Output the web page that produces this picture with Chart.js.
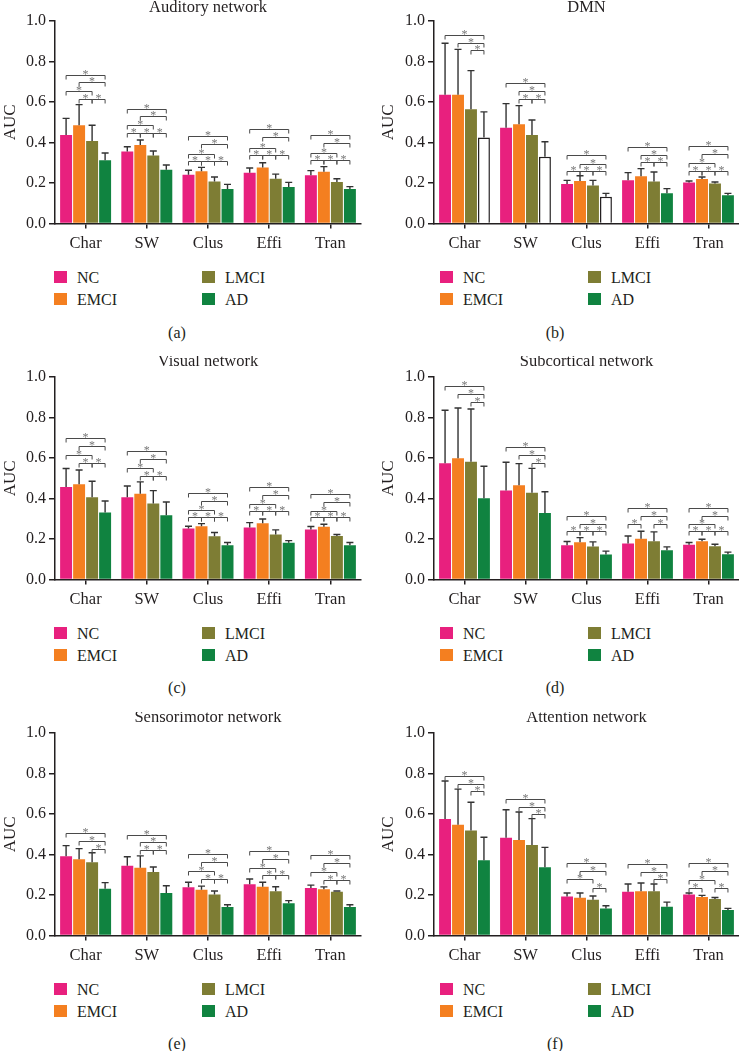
<!DOCTYPE html>
<html>
<head>
<meta charset="utf-8">
<script src="https://cdn.jsdelivr.net/npm/chart.js@4.4.1/dist/chart.umd.min.js"></script>
<style>
  body { margin: 0; background: #fff; }
  #page { position: relative; width: 739px; height: 1051px; overflow: hidden;
          font-family: "Liberation Serif", serif; color: #231f20; }
  #page canvas { position: absolute; }
  .lg { position: absolute; font-size: 16px; line-height: 16px; white-space: nowrap; transform: translateY(-50%); }
  .sw { position: absolute; width: 13px; height: 12px; transform: translateY(-50%); }
  .cap { position: absolute; font-size: 16px; line-height: 16px; transform: translate(-50%, -50%); }
</style>
</head>
<body>
<div id="page"></div>
<script>
const categories = ['Char', 'SW', 'Clus', 'Effi', 'Tran'];
const groups = ['NC', 'EMCI', 'LMCI', 'AD'];
const groupColors = ['#e8207e', '#f47f20', '#7e7d34', '#108340'];

// rows: NC, EMCI, LMCI, AD ; columns: Char, SW, Clus, Effi, Tran
const auditoryMean = [
    [0.437, 0.356, 0.241, 0.251, 0.238],
    [0.485, 0.388, 0.258, 0.277, 0.256],
    [0.407, 0.336, 0.207, 0.221, 0.205],
    [0.312, 0.266, 0.170, 0.180, 0.170]
];
const auditorySd = [
    [0.082, 0.023, 0.022, 0.023, 0.023],
    [0.102, 0.024, 0.019, 0.023, 0.025],
    [0.078, 0.022, 0.023, 0.023, 0.016],
    [0.036, 0.023, 0.023, 0.023, 0.012]
];
// significance brackets per category: [group a, group b, AUC level]
const auditorySig = [
    [[0, 3, 0.732], [1, 3, 0.697], [0, 2, 0.654], [1, 2, 0.613], [2, 3, 0.613]],
    [[0, 3, 0.567], [1, 3, 0.529], [0, 2, 0.485], [0, 1, 0.447], [1, 2, 0.447], [2, 3, 0.447]],
    [[0, 3, 0.430], [1, 3, 0.394], [0, 2, 0.345], [0, 1, 0.307], [1, 2, 0.307], [2, 3, 0.307]],
    [[0, 3, 0.465], [1, 3, 0.426], [0, 2, 0.374], [0, 1, 0.336], [1, 2, 0.336], [2, 3, 0.336]],
    [[0, 3, 0.437], [1, 3, 0.396], [0, 2, 0.350], [0, 1, 0.313], [1, 2, 0.313], [2, 3, 0.313]]
];

const dmnMean = [
    [0.636, 0.473, 0.195, 0.213, 0.202],
    [0.636, 0.490, 0.210, 0.233, 0.220],
    [0.564, 0.437, 0.188, 0.208, 0.198],
    [0.425, 0.330, 0.132, 0.149, 0.139]
];
const dmnSd = [
    [0.254, 0.119, 0.018, 0.038, 0.008],
    [0.224, 0.092, 0.026, 0.038, 0.010],
    [0.191, 0.074, 0.025, 0.046, 0.007],
    [0.126, 0.074, 0.017, 0.023, 0.010]
];
const dmnSig = [
    [[0, 3, 0.933], [1, 3, 0.893], [2, 3, 0.857]],
    [[0, 3, 0.692], [1, 3, 0.656], [1, 2, 0.616], [2, 3, 0.616]],
    [[0, 3, 0.337], [1, 3, 0.296], [0, 1, 0.259], [1, 2, 0.259], [2, 3, 0.259]],
    [[0, 3, 0.379], [1, 3, 0.337], [1, 2, 0.302], [2, 3, 0.302]],
    [[0, 3, 0.383], [1, 3, 0.345], [0, 2, 0.300], [0, 1, 0.261], [1, 2, 0.261], [2, 3, 0.261]]
];
// AD bars drawn hollow in the DMN panel
const dmnHollowAD = [true, true, true, false, false];

const visualMean = [
    [0.457, 0.406, 0.252, 0.257, 0.247],
    [0.470, 0.423, 0.263, 0.278, 0.260],
    [0.406, 0.375, 0.214, 0.222, 0.215],
    [0.331, 0.317, 0.169, 0.181, 0.169]
];
const visualSd = [
    [0.091, 0.056, 0.011, 0.024, 0.015],
    [0.071, 0.059, 0.013, 0.021, 0.013],
    [0.079, 0.064, 0.018, 0.023, 0.007],
    [0.057, 0.066, 0.014, 0.011, 0.014]
];
const visualSig = [
    [[0, 3, 0.701], [1, 3, 0.661], [0, 2, 0.613], [1, 2, 0.576], [2, 3, 0.576]],
    [[0, 3, 0.633], [1, 3, 0.597], [0, 2, 0.551], [1, 2, 0.512], [2, 3, 0.512]],
    [[0, 3, 0.428], [1, 3, 0.388], [0, 2, 0.342], [0, 1, 0.309], [1, 2, 0.309], [2, 3, 0.309]],
    [[0, 3, 0.457], [1, 3, 0.419], [0, 2, 0.375], [0, 1, 0.337], [1, 2, 0.337], [2, 3, 0.337]],
    [[0, 3, 0.424], [1, 3, 0.385], [0, 2, 0.339], [0, 1, 0.308], [1, 2, 0.308], [2, 3, 0.308]]
];

const subcorticalMean = [
    [0.574, 0.439, 0.169, 0.178, 0.171],
    [0.599, 0.465, 0.184, 0.201, 0.189],
    [0.582, 0.429, 0.163, 0.189, 0.164],
    [0.401, 0.329, 0.123, 0.145, 0.125]
];
const subcorticalSd = [
    [0.262, 0.140, 0.019, 0.037, 0.012],
    [0.248, 0.107, 0.023, 0.037, 0.010],
    [0.260, 0.120, 0.023, 0.046, 0.010],
    [0.158, 0.104, 0.017, 0.016, 0.010]
];
const subcorticalSig = [
    [[0, 3, 0.954], [1, 3, 0.914], [2, 3, 0.877]],
    [[0, 3, 0.653], [1, 3, 0.613], [2, 3, 0.576]],
    [[0, 3, 0.313], [1, 3, 0.276], [0, 1, 0.238], [1, 2, 0.238], [2, 3, 0.238]],
    [[0, 3, 0.355], [1, 3, 0.313], [0, 1, 0.276], [2, 3, 0.276]],
    [[0, 3, 0.354], [1, 3, 0.313], [0, 2, 0.273], [0, 1, 0.238], [1, 2, 0.238], [2, 3, 0.238]]
];

const sensorimotorMean = [
    [0.391, 0.345, 0.238, 0.253, 0.235],
    [0.376, 0.335, 0.226, 0.241, 0.228],
    [0.362, 0.314, 0.203, 0.218, 0.216],
    [0.231, 0.210, 0.141, 0.159, 0.141]
];
const sensorimotorSd = [
    [0.053, 0.044, 0.025, 0.026, 0.014],
    [0.053, 0.058, 0.018, 0.022, 0.012],
    [0.047, 0.024, 0.017, 0.023, 0.004],
    [0.030, 0.036, 0.011, 0.013, 0.011]
];
const sensorimotorSig = [
    [[0, 3, 0.508], [1, 3, 0.465], [2, 3, 0.425]],
    [[0, 3, 0.498], [1, 3, 0.462], [1, 2, 0.424], [2, 3, 0.424]],
    [[0, 3, 0.401], [1, 3, 0.363], [0, 2, 0.317], [1, 2, 0.277], [2, 3, 0.277]],
    [[0, 3, 0.417], [1, 3, 0.379], [0, 2, 0.335], [1, 2, 0.297], [2, 3, 0.297]],
    [[0, 3, 0.396], [1, 3, 0.358], [0, 2, 0.312], [1, 2, 0.274], [2, 3, 0.274]]
];

const attentionMean = [
    [0.575, 0.483, 0.193, 0.216, 0.202],
    [0.547, 0.472, 0.187, 0.218, 0.190],
    [0.518, 0.447, 0.177, 0.218, 0.180],
    [0.371, 0.337, 0.133, 0.142, 0.126]
];
const attentionSd = [
    [0.188, 0.138, 0.017, 0.038, 0.008],
    [0.176, 0.138, 0.023, 0.041, 0.008],
    [0.140, 0.130, 0.018, 0.036, 0.008],
    [0.114, 0.098, 0.014, 0.023, 0.008]
];
const attentionSig = [
    [[0, 3, 0.786], [1, 3, 0.748], [2, 3, 0.712]],
    [[0, 3, 0.676], [1, 3, 0.636], [2, 3, 0.598]],
    [[0, 3, 0.360], [1, 3, 0.320], [0, 2, 0.281], [2, 3, 0.233]],
    [[0, 3, 0.354], [1, 3, 0.315], [2, 3, 0.279]],
    [[0, 3, 0.356], [1, 3, 0.317], [0, 2, 0.274], [0, 1, 0.233], [2, 3, 0.233]]
];

const INK = '#231f20';
const FONT = '"Liberation Serif", serif';

const panels = [
    { title: 'Auditory network', caption: '(a)', mean: auditoryMean, sd: auditorySd, sig: auditorySig, col: 0, row: 0 },
    { title: 'DMN', caption: '(b)', mean: dmnMean, sd: dmnSd, sig: dmnSig, col: 1, row: 0, hollow: dmnHollowAD },
    { title: 'Visual network', caption: '(c)', mean: visualMean, sd: visualSd, sig: visualSig, col: 0, row: 1 },
    { title: 'Subcortical network', caption: '(d)', mean: subcorticalMean, sd: subcorticalSd, sig: subcorticalSig, col: 1, row: 1 },
    { title: 'Sensorimotor network', caption: '(e)', mean: sensorimotorMean, sd: sensorimotorSd, sig: sensorimotorSig, col: 0, row: 2 },
    { title: 'Attention network', caption: '(f)', mean: attentionMean, sd: attentionSd, sig: attentionSig, col: 1, row: 2 }
];

// error bars (upper only) and significance brackets
const marksPlugin = {
    id: 'marks',
    afterDatasetsDraw(chart, args, opts) {
        const ctx = chart.ctx;
        const yScale = chart.scales.y;
        ctx.save();
        ctx.strokeStyle = '#333';
        ctx.lineWidth = 1.4;
        chart.data.datasets.forEach((ds, i) => {
            chart.getDatasetMeta(i).data.forEach((bar, j) => {
                const top = yScale.getPixelForValue(ds.data[j] + opts.sd[i][j]);
                ctx.beginPath();
                ctx.moveTo(bar.x, bar.y);
                ctx.lineTo(bar.x, top);
                ctx.moveTo(bar.x - 3.5, top);
                ctx.lineTo(bar.x + 3.5, top);
                ctx.stroke();
            });
        });

        ctx.strokeStyle = '#4a4a4a';
        ctx.lineWidth = 1;
        ctx.fillStyle = '#777';
        ctx.font = '12px ' + FONT;
        ctx.textAlign = 'center';
        ctx.textBaseline = 'alphabetic';
        opts.sig.forEach((list, j) => {
            list.forEach(([a, b, level]) => {
                const x1 = chart.getDatasetMeta(a).data[j].x;
                const x2 = chart.getDatasetMeta(b).data[j].x;
                const yy = Math.round(yScale.getPixelForValue(level)) + 0.5;
                ctx.beginPath();
                ctx.moveTo(x1, yy + 4);
                ctx.lineTo(x1, yy);
                ctx.lineTo(x2, yy);
                ctx.lineTo(x2, yy + 4);
                ctx.stroke();
                ctx.fillText('*', (x1 + x2) / 2, yy + 2.5);
            });
        });
        ctx.restore();
    }
};

// panel title centred over the plot area
const titlePlugin = {
    id: 'panelTitle',
    afterDraw(chart, args, opts) {
        const area = chart.chartArea;
        const ctx = chart.ctx;
        ctx.save();
        ctx.fillStyle = INK;
        ctx.font = '16.5px ' + FONT;
        ctx.textAlign = 'center';
        ctx.textBaseline = 'middle';
        ctx.fillText(opts.text, (area.left + area.right) / 2, area.top - opts.gap);
        ctx.restore();
    }
};

const page = document.getElementById('page');
const rowTops = [0, 355.7, 711.7];

panels.forEach(p => {
    const left = p.col === 0 ? 0 : 370;
    const width = p.col === 0 ? 370 : 369;
    const top = rowTops[p.row];
    const canvas = document.createElement('canvas');
    canvas.width = width;
    canvas.height = 262;
    canvas.style.left = left + 'px';
    canvas.style.top = top + 'px';
    page.appendChild(canvas);

    const datasets = groups.map((g, i) => {
        const hollow = i === 3 && p.hollow;
        return {
            label: g,
            data: p.mean[i],
            backgroundColor: hollow ? p.hollow.map(h => h ? '#ffffff' : groupColors[i]) : groupColors[i],
            borderColor: INK,
            borderWidth: hollow ? p.hollow.map(h => h ? 1.5 : 0) : 0,
            borderSkipped: 'start'
        };
    });

    new Chart(canvas, {
        type: 'bar',
        data: { labels: categories, datasets: datasets },
        options: {
            responsive: false,
            animation: false,
            layout: { padding: { top: 21, right: p.col === 0 ? 9 : 0, left: 0, bottom: 0 } },
            datasets: { bar: { categoryPercentage: 0.85, barPercentage: 0.92 } },
            plugins: {
                legend: { display: false },
                tooltip: { enabled: false },
                marks: { sd: p.sd, sig: p.sig },
                panelTitle: { text: p.title, gap: p.row === 0 ? 13 : 15 }
            },
            scales: {
                x: {
                    grid: { offset: false, drawOnChartArea: false, tickLength: 5, color: INK, lineWidth: 1.5 },
                    border: { color: INK, width: 1.5 },
                    ticks: { font: { family: FONT, size: 16.5 }, color: INK, padding: 5, maxRotation: 0 },
                    afterFit(scale) { scale.height = 38.5; }
                },
                y: {
                    min: 0,
                    max: 1,
                    ticks: {
                        stepSize: 0.2,
                        callback: v => v.toFixed(1),
                        font: { family: FONT, size: 16 },
                        color: INK,
                        padding: 3
                    },
                    grid: { drawOnChartArea: false, tickLength: 6, color: INK, lineWidth: 1.5 },
                    border: { color: INK, width: 1.5 },
                    title: {
                        display: true,
                        text: 'AUC',
                        font: { family: FONT, size: 17 },
                        color: INK,
                        padding: { top: p.col === 0 ? 0 : 8, bottom: 0 }
                    },
                    afterFit(scale) { scale.width = p.col === 0 ? 55 : 64; }
                }
            }
        },
        plugins: [marksPlugin, titlePlugin]
    });

    // legend in two columns: NC / EMCI on the left, LMCI / AD on the right
    const axisY = top + 223.5;
    const swLeft = p.col === 0 ? 54 : 440;
    groups.forEach((g, i) => {
        const x = swLeft + (i >= 2 ? 148 : 0);
        const y = axisY + (i % 2 === 0 ? 53.5 : 75.5);
        const sw = document.createElement('div');
        sw.className = 'sw';
        sw.style.left = x + 'px';
        sw.style.top = y + 'px';
        sw.style.background = groupColors[i];
        page.appendChild(sw);
        const lg = document.createElement('div');
        lg.className = 'lg';
        lg.style.left = (x + 23) + 'px';
        lg.style.top = (y + 1) + 'px';
        lg.textContent = g;
        page.appendChild(lg);
    });

    const cap = document.createElement('div');
    cap.className = 'cap';
    cap.style.left = (p.col === 0 ? 177 : 555) + 'px';
    cap.style.top = (axisY + 109) + 'px';
    cap.textContent = p.caption;
    page.appendChild(cap);
});
</script>
</body>
</html>
